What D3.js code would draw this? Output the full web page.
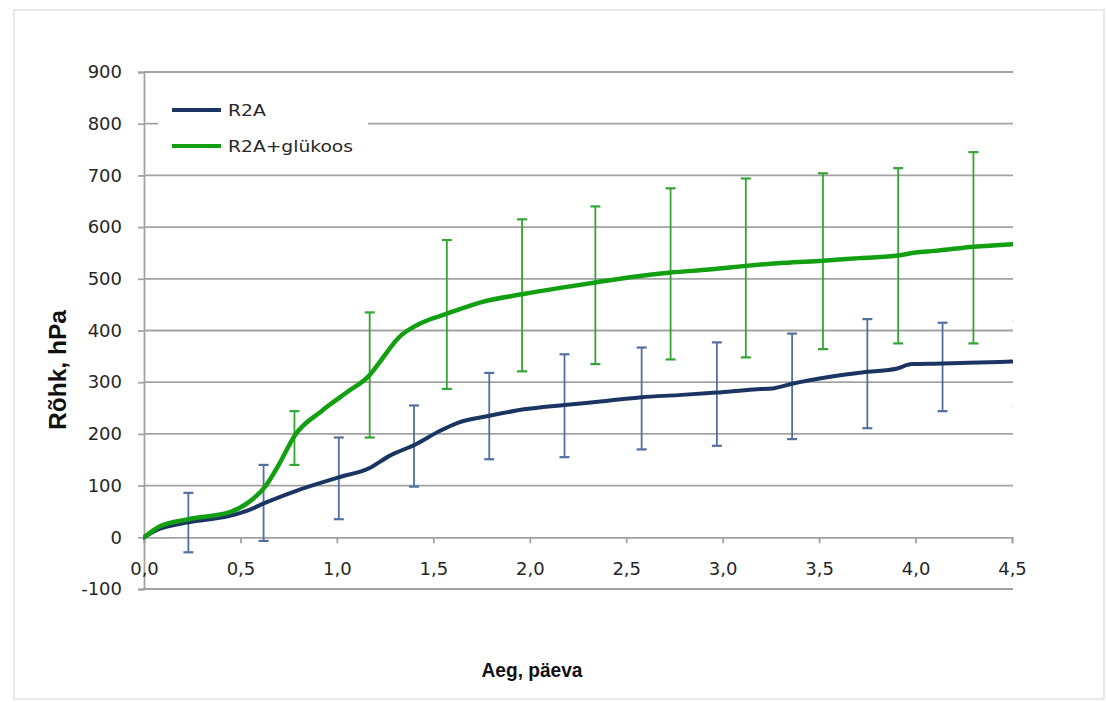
<!DOCTYPE html>
<html>
<head>
<meta charset="utf-8">
<script src="https://cdn.jsdelivr.net/npm/d3@7"></script>
<style>
  html, body { margin: 0; padding: 0; background: #fff; }
  svg { display: block; }
  text { font-family: "DejaVu Sans", sans-serif; }
</style>
</head>
<body>
<svg id="chart" width="1106" height="702"></svg>
<script>
// ---- data ----
const seriesNames = ["R2A", "R2A+glükoos"];

const r2aTime  = [0, 0.08, 0.23, 0.44, 0.54, 0.63, 0.79, 1.01, 1.17, 1.27, 1.41, 1.53, 1.63, 1.79, 1.98, 2.18, 2.38, 2.58, 2.77, 2.97, 3.16, 3.26, 3.36, 3.55, 3.75, 3.90, 3.98, 4.14, 4.33, 4.50];
const r2aValue = [0, 16, 29, 41, 52, 67, 90, 116, 134, 157, 180, 205, 222, 235, 248, 256, 263, 271, 275, 280, 286, 288, 297, 310, 320, 326, 335, 336, 338, 340];

const glkTime  = [0, 0.08, 0.23, 0.44, 0.54, 0.63, 0.70, 0.78, 0.92, 1.05, 1.17, 1.22, 1.32, 1.44, 1.56, 1.75, 1.96, 2.15, 2.34, 2.54, 2.73, 2.93, 3.12, 3.32, 3.52, 3.71, 3.91, 4.00, 4.10, 4.30, 4.50];
const glkValue = [0, 21, 35, 48, 67, 99, 141, 196, 244, 280, 314, 338, 386, 415, 431, 455, 470, 482, 493, 504, 512, 518, 525, 531, 535, 540, 545, 551, 554, 562, 567];

const r2aErrTime = [0.23, 0.62, 1.01, 1.40, 1.79, 2.18, 2.58, 2.97, 3.36, 3.75, 4.14, 4.53];
const r2aErrLow  = [-29, -7, 35, 98, 151, 155, 170, 177, 190, 211, 244, 253];
const r2aErrHigh = [86, 140, 193, 255, 318, 354, 367, 377, 394, 422, 415, 418];

const glkErrTime = [0.78, 1.17, 1.57, 1.96, 2.34, 2.73, 3.12, 3.52, 3.91, 4.30];
const glkErrLow  = [140, 193, 287, 321, 335, 344, 348, 364, 375, 375];
const glkErrHigh = [244, 435, 575, 615, 640, 675, 694, 704, 714, 745];

const xTicks = [0, 0.5, 1, 1.5, 2, 2.5, 3, 3.5, 4, 4.5];
const yTicks = [-100, 0, 100, 200, 300, 400, 500, 600, 700, 800, 900];

const xTitle = "Aeg, päeva";
const yTitle = "Rõhk, hPa";

// ---- drawing ----
const svg = d3.select("#chart");
const x = d3.scaleLinear().domain([0, 4.5]).range([144, 1012]);
const y = d3.scaleLinear().domain([-100, 900]).range([589, 72]);

const blueLine = "#1b3563";
const blueErr  = "#52709f";
const greenLine = "#12a012";
const greenErr  = "#34a434";
const gridCol = "#a3a3a3";
const textCol = "#262626";

// outer faint border
svg.append("rect").attr("x", 14).attr("y", 10).attr("width", 1090).attr("height", 689)
  .attr("fill", "#fff").attr("stroke", "#e9e9e9").attr("stroke-width", 2);

svg.append("defs").append("clipPath").attr("id", "plotclip")
  .append("rect").attr("x", x(0) - 1).attr("y", y(900) - 10)
  .attr("width", x(4.5) - x(0) + 2).attr("height", y(-100) - y(900) + 20);

// gridlines (except 0, which is the x axis)
svg.append("g").selectAll("line").data(yTicks.filter(d => d !== 0)).join("line")
  .attr("x1", x(0)).attr("x2", x(4.5) + 1)
  .attr("y1", d => y(d)).attr("y2", d => y(d))
  .attr("stroke", gridCol).attr("stroke-width", 1.8);

// y axis
const fmtY = d => String(d);  // plain hyphen minus, as in the original
const yAxis = svg.append("g").attr("transform", `translate(${x(0)},0)`)
  .call(d3.axisLeft(y).tickValues(yTicks).tickSize(6).tickPadding(16).tickFormat(fmtY));
yAxis.select(".domain").attr("stroke", gridCol).attr("stroke-width", 1.8);
yAxis.selectAll(".tick line").attr("stroke", gridCol).attr("stroke-width", 1.8);
yAxis.selectAll(".tick text").attr("fill", textCol).style("font-size", "18px")
  .style("font-family", "'DejaVu Sans', sans-serif");

// x axis at y=0
const fmtX = d => d.toFixed(1).replace(".", ",");
const xAxis = svg.append("g").attr("transform", `translate(0,${y(0)})`)
  .call(d3.axisBottom(x).tickValues(xTicks).tickSize(6).tickPadding(19).tickFormat(fmtX));
xAxis.select(".domain").attr("stroke", gridCol).attr("stroke-width", 1.8);
xAxis.selectAll(".tick line").attr("stroke", gridCol).attr("stroke-width", 1.8);
xAxis.selectAll(".tick text").attr("fill", textCol).style("font-size", "18px")
  .style("font-family", "'DejaVu Sans', sans-serif");

const plot = svg.append("g").attr("clip-path", "url(#plotclip)");

function errorBars(times, lows, highs, color) {
  const data = times.map((t, i) => ({t, lo: lows[i], hi: highs[i]}));
  const g = plot.append("g").attr("stroke", color).attr("stroke-width", 1.8).attr("fill", "none");
  g.selectAll(".v").data(data).join("line").attr("class", "v")
    .attr("x1", d => x(d.t)).attr("x2", d => x(d.t))
    .attr("y1", d => y(d.lo)).attr("y2", d => y(d.hi));
  g.selectAll(".ct").data(data).join("line").attr("class", "ct")
    .attr("x1", d => x(d.t) - 5).attr("x2", d => x(d.t) + 5)
    .attr("y1", d => y(d.hi)).attr("y2", d => y(d.hi)).attr("stroke-width", 2.2);
  g.selectAll(".cb").data(data).join("line").attr("class", "cb")
    .attr("x1", d => x(d.t) - 5).attr("x2", d => x(d.t) + 5)
    .attr("y1", d => y(d.lo)).attr("y2", d => y(d.lo)).attr("stroke-width", 2.2);
}

const line = d3.line().x(d => x(d[0])).y(d => y(d[1])).curve(d3.curveMonotoneX);

errorBars(r2aErrTime, r2aErrLow, r2aErrHigh, blueErr);
errorBars(glkErrTime, glkErrLow, glkErrHigh, greenErr);

plot.append("path").datum(r2aTime.map((t, i) => [t, r2aValue[i]]))
  .attr("d", line).attr("fill", "none").attr("stroke", blueLine)
  .attr("stroke-width", 4).attr("stroke-linejoin", "round").attr("stroke-linecap", "round");
plot.append("path").datum(glkTime.map((t, i) => [t, glkValue[i]]))
  .attr("d", line).attr("fill", "none").attr("stroke", greenLine)
  .attr("stroke-width", 4.5).attr("stroke-linejoin", "round").attr("stroke-linecap", "round");

// legend
const lg = svg.append("g");
lg.append("rect").attr("x", 158).attr("y", 86).attr("width", 210).attr("height", 80).attr("fill", "#fff");
const legendItems = [
  {name: seriesNames[0], color: blueLine, yy: 110, w: 38},
  {name: seriesNames[1], color: greenLine, yy: 146, w: 125}
];
legendItems.forEach(it => {
  lg.append("line").attr("x1", 172).attr("x2", 221).attr("y1", it.yy).attr("y2", it.yy)
    .attr("stroke", it.color).attr("stroke-width", 4);
  lg.append("text").attr("x", 228).attr("y", it.yy + 6).text(it.name)
    .attr("fill", textCol).style("font-size", "16px")
    .attr("textLength", it.w).attr("lengthAdjust", "spacingAndGlyphs");
});

// axis titles
svg.append("text").attr("x", 532).attr("y", 677).attr("text-anchor", "middle")
  .attr("fill", "#111").style("font-family", "'Liberation Sans', Arial, sans-serif")
  .style("font-size", "20px").style("font-weight", "bold")
  .attr("textLength", 101).attr("lengthAdjust", "spacingAndGlyphs")
  .text(xTitle);
svg.append("text").attr("transform", "translate(66,370) rotate(-90)").attr("text-anchor", "middle")
  .attr("fill", "#111").style("font-family", "'Liberation Sans', Arial, sans-serif")
  .style("font-size", "23px").style("font-weight", "bold")
  .attr("textLength", 120).attr("lengthAdjust", "spacingAndGlyphs")
  .text(yTitle);
</script>
</body>
</html>
